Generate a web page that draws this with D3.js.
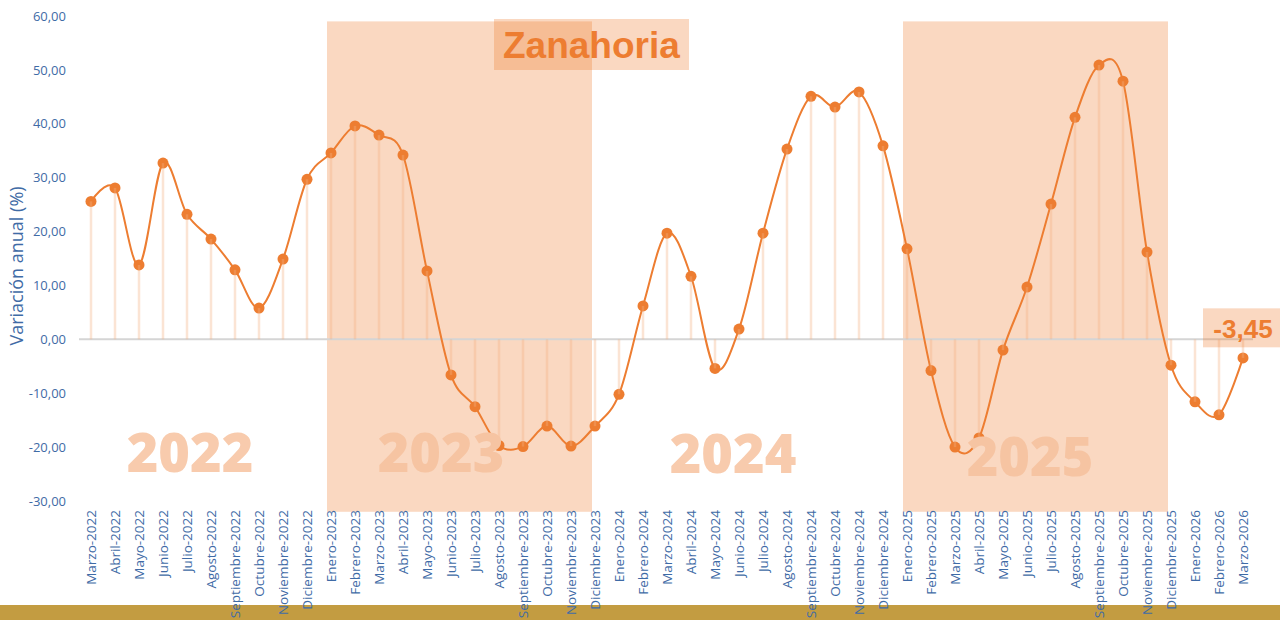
<!DOCTYPE html>
<html><head><meta charset="utf-8">
<script src="https://cdn.jsdelivr.net/npm/d3@7"></script>
<style>
html,body{margin:0;padding:0;background:#fff;}
svg{display:block;}
</style></head>
<body>
<svg id="chart" width="1280" height="620"></svg>
<script>
const months = ["Marzo-2022","Abril-2022","Mayo-2022","Junio-2022","Julio-2022","Agosto-2022","Septiembre-2022","Octubre-2022","Noviembre-2022","Diciembre-2022",
"Enero-2023","Febrero-2023","Marzo-2023","Abril-2023","Mayo-2023","Junio-2023","Julio-2023","Agosto-2023","Septiembre-2023","Octubre-2023","Noviembre-2023","Diciembre-2023",
"Enero-2024","Febrero-2024","Marzo-2024","Abril-2024","Mayo-2024","Junio-2024","Julio-2024","Agosto-2024","Septiembre-2024","Octubre-2024","Noviembre-2024","Diciembre-2024",
"Enero-2025","Febrero-2025","Marzo-2025","Abril-2025","Mayo-2025","Junio-2025","Julio-2025","Agosto-2025","Septiembre-2025","Octubre-2025","Noviembre-2025","Diciembre-2025",
"Enero-2026","Febrero-2026","Marzo-2026"];
const values = [25.6,28.1,13.8,32.7,23.2,18.6,12.9,5.8,14.9,29.7,
34.6,39.6,37.9,34.2,12.7,-6.6,-12.5,-19.7,-19.9,-16.1,-19.8,-16.1,
-10.2,6.2,19.7,11.7,-5.4,1.9,19.7,35.3,45.1,43.1,45.9,35.9,
16.8,-5.8,-20.0,-18.3,-2.0,9.7,25.1,41.2,50.9,47.9,16.2,-4.8,
-11.6,-14.0,-3.45];
const yTicks = [-30,-20,-10,0,10,20,30,40,50,60];
const shadedYears = [["Enero-2023","Diciembre-2023"],["Enero-2025","Diciembre-2025"]];
const yearLabels = ["2022","2023","2024","2025"];
const title = "Zanahoria";
const yTitle = "Variación anual (%)";
const lastLabel = "-3,45";

const ORANGE = "#ED7D31", BLUE = "#3F6BA6";
const svg = d3.select("#chart");
const x = d3.scalePoint().domain(months).range([91, 1243]);
const y = d3.scaleLinear().domain([-30, 60]).range([501, 16]);
const fmt = v => d3.format(".2f")(v).replace(".", ",").replace("\u2212", "-");

// bottom band
svg.append("rect").attr("x", 0).attr("y", 605).attr("width", 1280).attr("height", 15)
  .attr("fill", "#C39C41");

// shaded bands
svg.selectAll("rect.band").data(shadedYears).join("rect")
  .attr("x", d => x(d[0]) - 4)
  .attr("width", d => x(d[1]) - x(d[0]) + 1)
  .attr("y", y(59)).attr("height", y(-32) - y(59))
  .attr("fill", ORANGE).attr("fill-opacity", 0.3);

// title box
svg.append("rect").attr("x", 494).attr("y", 19).attr("width", 195).attr("height", 51)
  .attr("fill", ORANGE).attr("fill-opacity", 0.3);
svg.append("text").attr("x", 503).attr("y", 58).text(title)
  .attr("font-family", "Liberation Sans, Arial, sans-serif").attr("font-weight", "bold")
  .attr("font-size", 37).attr("fill", ORANGE);

// zero line
svg.append("line").attr("x1", x(months[0]) - 12).attr("x2", x(months[months.length - 1]) + 10)
  .attr("y1", y(0)).attr("y2", y(0)).attr("stroke", "#D5D5D5").attr("stroke-width", 2);

// y axis labels
const yAxis = d3.axisLeft(y).tickValues(yTicks).tickFormat(fmt).tickSize(0).tickPadding(0);
const gy = svg.append("g").attr("transform", "translate(66,0)").call(yAxis);
gy.select(".domain").remove();
gy.selectAll("text").attr("font-family", "Open Sans, sans-serif").attr("font-size", 13).attr("fill", BLUE);

// x axis labels
const xAxis = d3.axisBottom(x).tickSize(0).tickPadding(0);
const gx = svg.append("g").attr("transform", "translate(0,510)").call(xAxis);
gx.select(".domain").remove();
gx.selectAll("text")
  .attr("transform", "rotate(-90)").attr("text-anchor", "end")
  .attr("x", 0).attr("y", 0).attr("dy", "0.35em")
  .attr("font-family", "Open Sans, sans-serif").attr("font-size", 13.5).attr("fill", BLUE);

// y title
svg.append("text").attr("transform", "translate(23,266) rotate(-90)")
  .attr("text-anchor", "middle").text(yTitle)
  .attr("font-family", "Open Sans, sans-serif").attr("font-size", 18).attr("fill", BLUE);

// line
const line = d3.line().x((d, i) => x(months[i])).y(d => y(d)).curve(d3.curveCardinal.tension(0));
svg.append("path").datum(values).attr("d", line)
  .attr("fill", "none").attr("stroke", ORANGE).attr("stroke-width", 2);

svg.selectAll("circle.pt").data(values).join("circle")
  .attr("cx", (d, i) => x(months[i])).attr("cy", d => y(d)).attr("r", 5.5)
  .attr("fill", ORANGE);

// stems (drawn over markers, semi-transparent)
svg.selectAll("line.stem").data(values).join("line")
  .attr("x1", (d, i) => x(months[i])).attr("x2", (d, i) => x(months[i]))
  .attr("y1", y(0)).attr("y2", d => y(d))
  .attr("stroke", "#F4B183").attr("stroke-opacity", 0.35).attr("stroke-width", 2.5);

// year watermarks
const yearPos = [[190, 472, "#F8CBAD"], [441, 472, "#F6C4A2"], [733, 473, "#F8CBAD"], [1030, 476, "#F6C4A2"]];
svg.selectAll("text.year").data(yearLabels).join("text")
  .attr("x", (d, i) => yearPos[i][0]).attr("y", (d, i) => yearPos[i][1])
  .attr("text-anchor", "middle").text(d => d)
  .attr("font-family", "Open Sans, sans-serif").attr("font-weight", 800)
  .attr("font-size", 54).attr("fill", (d, i) => yearPos[i][2]);

// last value label
const lx = x(months[months.length - 1]);
svg.append("rect").attr("x", lx - 40).attr("y", y(0) - 31).attr("width", 80).attr("height", 39)
  .attr("fill", ORANGE).attr("fill-opacity", 0.3);
svg.append("text").attr("x", lx).attr("y", y(0) - 1).attr("text-anchor", "middle").text(lastLabel)
  .attr("font-family", "Liberation Sans, Arial, sans-serif").attr("font-weight", "bold")
  .attr("font-size", 26).attr("fill", ORANGE);
</script>
</body></html>
